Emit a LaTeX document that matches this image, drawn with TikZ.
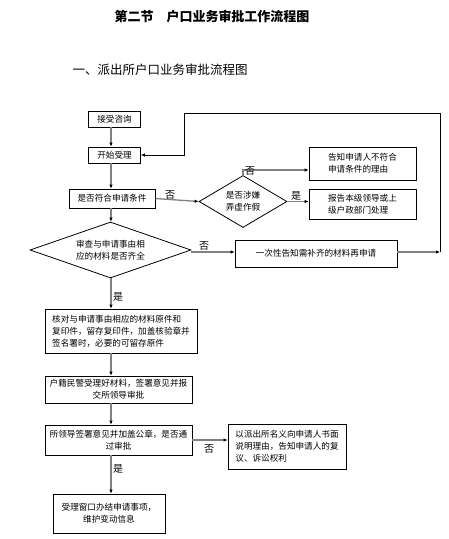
\documentclass[tikz,border=0pt]{standalone}
\usepackage{fontspec}
\setmainfont{Noto Sans CJK SC}
\usetikzlibrary{arrows.meta,shapes.geometric}
\begin{document}
\begin{tikzpicture}[x=1pt,y=-1pt,
  box/.style={draw=black,line width=0.8pt,inner sep=0pt,font=\fontsize{8.6}{12}\selectfont},
  dia/.style={draw=black,line width=0.8pt,shape=diamond,inner sep=0pt},
  dtext/.style={font=\fontsize{8.6}{12}\selectfont,align=center,inner sep=0pt},
  conn/.style={draw=gray,line width=1.3pt,-{Latex[color=black,length=4pt,width=3.5pt]}},
  loopl/.style={draw=black,line width=0.7pt},
  lbl/.style={font=\fontsize{10}{12}\selectfont,inner sep=0pt}]
\useasboundingbox (0,0) rectangle (448,539);
\node[font=\fontsize{13}{15}\selectfont\bfseries] (title) at (212,17) {第二节\quad 户口业务审批工作流程图};
\node[font=\fontsize{12.5}{15}\selectfont,anchor=west] (sub) at (69,70) {一、派出所户口业务审批流程图};
\coordinate (vx) at (111,0);
\node[box,minimum width=52,minimum height=16] (n1) at (114.5,119) {接受咨询};
\node[box,minimum width=52,minimum height=16] (n2) at (114.5,155) {开始受理};
\node[box,minimum width=86,minimum height=19] (n3) at (112,198.5) {是否符合申请条件};
\node[dia,minimum width=88,minimum height=52] (d1) at (243,201.5) {};
\node[dtext] (d1t) at (d1.center) {是否涉嫌\\弄虚作假};
\node[box,minimum width=107,minimum height=33,align=left] (n4) at (362.5,163.5) {告知申请人不符合\\申请条件的理由};
\node[box,minimum width=107,minimum height=30,align=left] (n5) at (362.5,204) {报告本级领导或上\\级户政部门处理};
\node[dia,minimum width=161,minimum height=56] (d2) at (110.5,250) {};
\node[dtext] (d2t) at (d2.center) {审查与申请事由相\\应的材料是否齐全};
\node[box,minimum width=162,minimum height=27] (n6) at (316,253.5) {一次性告知需补齐的材料再申请};
\node[box,minimum width=152,minimum height=44,align=left] (n7) at (121,331) {核对与申请事由相应的材料原件和\\复印件，留存复印件，加盖核验章并\\签名署时，必要的可留存原件};
\node[box,minimum width=147,minimum height=27,align=center] (n8) at (118.5,389.5) {户籍民警受理好材料，签署意见并报\\交所领导审批};
\node[box,minimum width=147,minimum height=30,align=center] (n9) at (118.5,440) {所领导签署意见并加盖公章，是否通\\过审批};
\node[box,minimum width=118,minimum height=45,align=left] (n10) at (287,446.5) {以派出所名义向申请人书面\\说明理由，告知申请人的复\\议、诉讼权利};
\node[box,minimum width=112,minimum height=39,align=center] (n11) at (109,513.5) {受理窗口办结申请事项，\\维护变动信息};
% main chain
\draw[conn] (n1.south -| vx) -- (n2.north -| vx);
\draw[conn] (n2.south -| vx) -- (n3.north -| vx);
\draw[conn] (n3.south -| vx) -- (d2.north -| vx);
\draw[conn] (d2.south -| vx) -- (n7.north -| vx);
\draw[conn] (n7.south -| vx) -- (n8.north -| vx);
\draw[conn] (n8.south -| vx) -- (n9.north -| vx);
\draw[conn] (n9.south -| vx) -- (n11.north -| vx);
% branches
\draw[conn] (n3.east) -- (d1.west);
\draw[conn] (d1.north) |- ([yshift=-6.5]n4.west);
\draw[conn] (d1.east) -- (d1.east -| n5.west);
\draw[conn] (d2.east |- 0,252) -- (n6.west |- 0,252);
\coordinate (rt) at (440,252);
\draw[conn] (n6.east |- rt) -- (rt);
\draw[loopl,-{Latex[length=4pt,width=3.5pt]}] (rt) -- (440,113) -- (184,113) -- (184,155) -- (n2.east);
\draw[conn] (n9.east) -- (n10.west |- n9.east);
% labels
\node[lbl] (l1) at (170,195) {否};
\node[lbl] (l2) at (250,171) {否};
\node[lbl] (l3) at (296,196) {是};
\node[lbl] (l4) at (204,246) {否};
\node[lbl] (l5) at (118,297) {是};
\node[lbl] (l6) at (209,449) {否};
\node[lbl] (l7) at (118,469) {是};
\end{tikzpicture}
\end{document}
